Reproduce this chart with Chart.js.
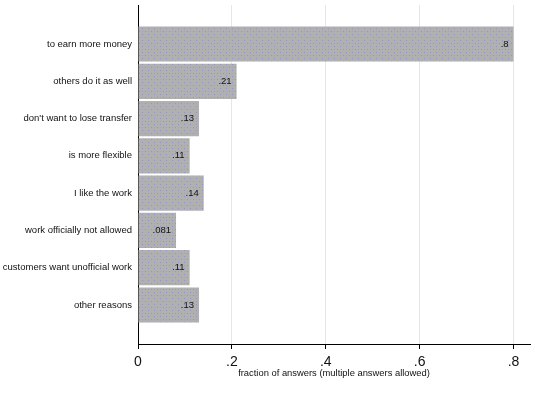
<!DOCTYPE html>
<html>
<head>
<meta charset="utf-8">
<script src="https://cdn.jsdelivr.net/npm/chart.js@4/dist/chart.umd.min.js"></script>
<style>
    body { margin: 0; background: #fff; }
    #wrap { width: 535px; height: 397px; }
</style>
</head>
<body>
<div id="wrap"><canvas id="reasonsChart" width="535" height="397"></canvas></div>
<script>
// Reasons for unofficial work, fraction of answers
const categories = [
    'to earn more money',
    'others do it as well',
    "don't want to lose transfer",
    'is more flexible',
    'I like the work',
    'work officially not allowed',
    'customers want unofficial work',
    'other reasons'
];
const fractions = [0.8, 0.21, 0.13, 0.11, 0.14, 0.081, 0.11, 0.13];
const xTicks = [0, 0.2, 0.4, 0.6, 0.8];

// strip the leading zero the way the original does (.21, .081)
const fmt = v => (v === 0 ? '0' : String(v).replace(/^0/, ''));

// grey fill with small blue-ish dots
function makePattern() {
    const c = document.createElement('canvas');
    c.width = 6;
    c.height = 6;
    const g = c.getContext('2d');
    g.fillStyle = '#b0b0b0';
    g.fillRect(0, 0, 6, 6);
    g.fillStyle = '#9494c4';
    g.fillRect(1, 1, 1, 1);
    g.fillRect(4, 4, 1, 1);
    g.fillStyle = '#a8a890';
    g.fillRect(4, 1, 1, 1);
    return g.createPattern(c, 'repeat');
}

const valueLabels = {
    id: 'valueLabels',
    afterDatasetsDraw(chart) {
        const ctx = chart.ctx;
        const meta = chart.getDatasetMeta(0);
        ctx.save();
        ctx.font = '9.5px Arial, "Liberation Sans", sans-serif';
        ctx.fillStyle = '#111';
        ctx.textAlign = 'right';
        ctx.textBaseline = 'middle';
        meta.data.forEach((bar, i) => {
            ctx.fillText(fmt(fractions[i]), bar.x - 5, bar.y);
        });
        ctx.restore();
    }
};

const ctx = document.getElementById('reasonsChart').getContext('2d');
new Chart(ctx, {
    type: 'bar',
    data: {
        datasets: [{
            data: fractions.map((v, i) => ({ x: v, y: i })),
            backgroundColor: makePattern(),
            borderWidth: 0,
            barPercentage: 0.94,
            categoryPercentage: 1
        }]
    },
    options: {
        indexAxis: 'y',
        responsive: false,
        animation: false,
        layout: { padding: { top: 5, right: 5 } },
        plugins: {
            legend: { display: false },
            tooltip: { enabled: false }
        },
        scales: {
            x: {
                type: 'linear',
                min: 0,
                max: 0.835,
                afterBuildTicks: s => { s.ticks = xTicks.map(v => ({ value: v })); },
                afterFit: s => { s.height = 53; },
                grid: {
                    color: c => (c.tick && c.tick.value === 0 ? 'rgba(0,0,0,0)' : '#e6e6e6'),
                    tickColor: '#000',
                    tickLength: 5
                },
                border: { display: true, color: '#000', width: 1 },
                ticks: {
                    padding: 5,
                    color: '#111',
                    font: { family: 'Arial, "Liberation Sans", sans-serif', size: 14 },
                    callback: v => fmt(v),
                    maxRotation: 0
                },
                title: {
                    display: true,
                    text: 'fraction of answers (multiple answers allowed)',
                    color: '#111',
                    font: { family: 'Arial, "Liberation Sans", sans-serif', size: 9.4 },
                    padding: { top: 0, bottom: 18 }
                }
            },
            y: {
                // linear index axis so the bars can sit inside the extra top/bottom room
                type: 'linear',
                reverse: true,
                offset: false,
                min: -1.05,
                max: 8.05,
                afterBuildTicks: s => { s.ticks = categories.map((_, i) => ({ value: i })); },
                afterFit: s => { s.width = 138; s.paddingTop = 0; s.paddingBottom = 0; },
                grid: { display: false, drawTicks: false },
                border: { display: true, color: '#000', width: 1 },
                ticks: {
                    padding: 6,
                    color: '#111',
                    font: { family: 'Arial, "Liberation Sans", sans-serif', size: 9.5 },
                    callback: v => categories[v] ?? ''
                }
            }
        }
    },
    plugins: [valueLabels]
});
</script>
</body>
</html>
